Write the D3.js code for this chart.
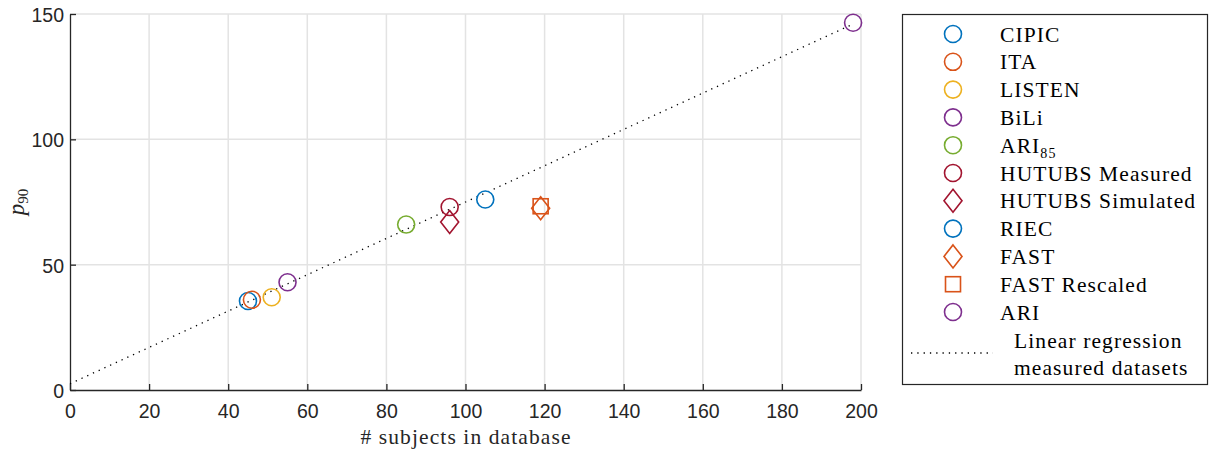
<!DOCTYPE html>
<html><head><meta charset="utf-8">
<script src="https://cdn.jsdelivr.net/npm/d3@7"></script>
<style>body{margin:0;background:#fff;}svg{display:block;}</style>
</head><body>
<svg id="c" width="1210" height="450"></svg>
<script>
const names = ["CIPIC","ITA","LISTEN","BiLi","ARI85","HUTUBS Measured","HUTUBS Simulated","RIEC","FAST","FAST Rescaled","ARI"];
const subjects = [45, 46, 51, 55, 85, 96, 96, 105, 119, 119, 198];
const p90 = [35.5, 36, 37, 43, 66, 73, 67, 76, 72.5, 73.3, 146.5];
const colors = ["#0072BD","#D95319","#EDB120","#7E2F8E","#77AC30","#A2142F","#A2142F","#0072BD","#D95319","#D95319","#7E2F8E"];
const shapes = ["circle","circle","circle","circle","circle","circle","diamond","circle","diamond","square","circle"];
const regX = [0, 198];
const regY = [2.5, 146];
const xTicks = [0,20,40,60,80,100,120,140,160,180,200];
const yTicks = [0,50,100,150];

const svg = d3.select("#c");
const x = d3.scaleLinear().domain([0,200]).range([70,861]);
const y = d3.scaleLinear().domain([0,150]).range([390,14]);
const serif = "'Liberation Serif','Times New Roman',serif";
const sans = "Arial,'Liberation Sans',Helvetica,sans-serif";

// grid
svg.append("g").selectAll("line").data(xTicks.slice(1)).join("line")
  .attr("x1",d=>x(d)).attr("x2",d=>x(d)).attr("y1",y(0)).attr("y2",y(150))
  .attr("stroke","#e3e3e3").attr("stroke-width",1.5);
svg.append("g").selectAll("line").data(yTicks.slice(1)).join("line")
  .attr("y1",d=>y(d)).attr("y2",d=>y(d)).attr("x1",x(0)).attr("x2",x(200))
  .attr("stroke","#e3e3e3").attr("stroke-width",1.5);

// axes
const xa = svg.append("g").attr("transform",`translate(0,${y(0)})`)
  .call(d3.axisBottom(x).tickValues(xTicks).tickSize(-6).tickPadding(10).tickSizeOuter(0));
const ya = svg.append("g").attr("transform",`translate(${x(0)},0)`)
  .call(d3.axisLeft(y).tickValues(yTicks).tickSize(-6).tickPadding(6).tickSizeOuter(0));
[xa,ya].forEach(a=>{
  a.selectAll("path,line").attr("stroke","#262626").attr("stroke-width",1.3);
  a.selectAll("text").attr("fill","#262626").style("font-family",sans).style("font-size","19.5px");
});
xa.selectAll("text").attr("dy","0.9em");
ya.selectAll("text").attr("dy","0.38em");

// regression
svg.append("line").attr("x1",x(regX[0])).attr("y1",y(regY[0])).attr("x2",x(regX[1])).attr("y2",y(regY[1]))
  .attr("stroke","#000").attr("stroke-width",1.3).attr("stroke-dasharray","1.3,5");

function drawMarker(g, shape, cx, cy, color){
  if(shape==="circle"){
    g.append("circle").attr("cx",cx).attr("cy",cy).attr("r",8.5)
      .attr("fill","none").attr("stroke",color).attr("stroke-width",1.6);
  } else if(shape==="diamond"){
    g.append("path").attr("d",`M${cx},${cy-11.5}L${cx+9},${cy}L${cx},${cy+11.5}L${cx-9},${cy}Z`)
      .attr("fill","none").attr("stroke",color).attr("stroke-width",1.6);
  } else {
    g.append("rect").attr("x",cx-7.5).attr("y",cy-7.5).attr("width",15).attr("height",15)
      .attr("fill","none").attr("stroke",color).attr("stroke-width",1.6);
  }
}
const pts = svg.append("g");
names.forEach((n,i)=>drawMarker(pts, shapes[i], x(subjects[i]), y(p90[i]), colors[i]));

const fs = "21.5px", ls = "1.1px";
// axis labels
svg.append("text").attr("x",466).attr("y",444).attr("text-anchor","middle")
  .style("font-family",serif).style("font-size",fs).style("letter-spacing",ls).attr("fill","#262626").text("# subjects in database");
const yl = svg.append("text").attr("transform","translate(24,202) rotate(-90)").attr("text-anchor","middle")
  .style("font-family",serif).style("font-size","23px").attr("fill","#262626");
yl.append("tspan").style("font-style","italic").text("p");
yl.append("tspan").attr("dy",4).style("font-size","15px").text("90");

// legend
const lg = svg.append("g");
lg.append("rect").attr("x",902.5).attr("y",14.5).attr("width",305).attr("height",370)
  .attr("fill","#fff").attr("stroke","#262626").attr("stroke-width",1.2);
const ly0 = 34, dy = 27.8;
names.forEach((n,i)=>{
  const yy = ly0 + i*dy;
  drawMarker(lg, shapes[i], 953, yy, colors[i]);
  const t = lg.append("text").attr("x",1000).attr("y",yy).attr("dy","0.35em")
    .style("font-family",serif).style("font-size",fs).style("letter-spacing",ls).attr("fill","#000");
  if(n==="ARI85"){
    t.append("tspan").text("ARI");
    t.append("tspan").attr("dy",5).style("font-size","14px").text("85");
  } else t.text(n);
});
lg.append("line").attr("x1",911).attr("x2",993).attr("y1",353).attr("y2",353)
  .attr("stroke","#000").attr("stroke-width",1.3).attr("stroke-dasharray","1.3,5");
lg.append("text").attr("x",1014).attr("y",340).attr("dy","0.35em")
  .style("font-family",serif).style("font-size",fs).style("letter-spacing",ls).text("Linear regression");
lg.append("text").attr("x",1014).attr("y",367).attr("dy","0.35em")
  .style("font-family",serif).style("font-size",fs).style("letter-spacing",ls).text("measured datasets");
</script>
</body></html>
